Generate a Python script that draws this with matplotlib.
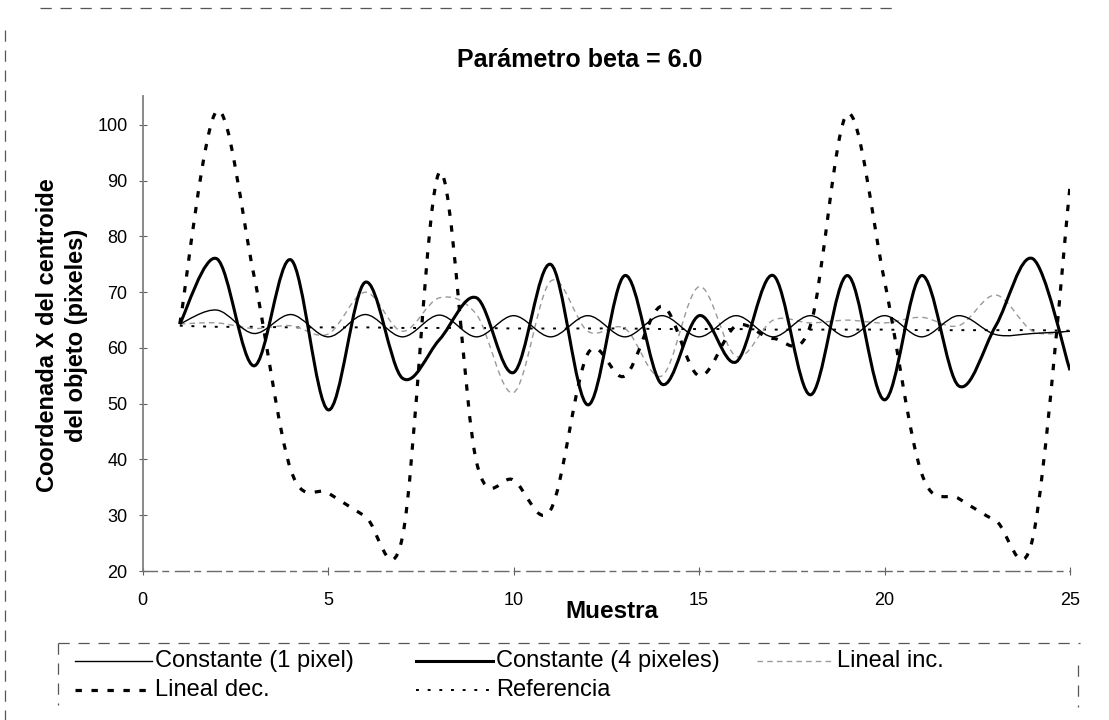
import numpy as np
import matplotlib
matplotlib.use("Agg")
import matplotlib.pyplot as plt
from matplotlib.path import Path
from matplotlib.patches import PathPatch
from matplotlib.lines import Line2D

plt.rcParams['font.family'] = ['Liberation Sans', 'DejaVu Sans']

# ---- data -------------------------------------------------------------
muestra = list(range(1, 26))

constante_1px = [64.3, 66.8, 62.6, 66.0, 62.0, 66.0, 62.0, 65.9, 62.0, 65.8,
                 62.0, 65.8, 62.0, 65.8, 62.0, 65.8, 62.0, 65.8, 62.0, 65.8,
                 62.0, 65.8, 62.4, 62.6, 63.0]

constante_4px = [64.3, 76.0, 56.8, 75.8, 48.9, 71.8, 54.6, 61.5, 69.0, 55.6,
                 75.0, 49.8, 73.0, 53.5, 65.8, 57.5, 73.0, 51.6, 73.0, 50.7,
                 73.0, 53.2, 64.0, 76.0, 56.0]

lineal_inc = [64.3, 64.5, 63.5, 64.0, 62.5, 70.0, 63.0, 69.0, 66.0, 52.0,
              72.0, 63.0, 63.5, 55.0, 71.0, 58.5, 65.0, 64.5, 65.0, 64.5,
              65.5, 64.0, 69.5, 63.0, 63.0]

lineal_dec = [64.3, 102.5, 73.0, 38.0, 34.0, 29.8, 26.0, 91.5, 39.5, 36.3,
              31.0, 59.0, 55.0, 67.5, 55.0, 64.0, 61.7, 64.0, 102.0, 72.0,
              37.5, 33.0, 29.0, 26.0, 89.0]

referencia = [64.0, 63.8, 63.8, 63.7, 63.7, 63.7, 63.6, 63.6, 63.6, 63.5,
              63.5, 63.5, 63.5, 63.4, 63.4, 63.4, 63.3, 63.3, 63.3, 63.3,
              63.2, 63.2, 63.2, 63.2, 63.1]

x_ticks = [0, 5, 10, 15, 20, 25]
y_ticks = [20, 30, 40, 50, 60, 70, 80, 90, 100]

# ---- styles -----------------------------------------------------------
estilos = {
    "Constante (1 pixel)":   dict(color="black", lw=1.0, ls="-"),
    "Constante (4 pixeles)": dict(color="black", lw=2.2, ls="-"),
    "Lineal inc.":           dict(color="#9a9a9a", lw=1.0, ls=(0, (4, 3))),
    "Lineal dec.":           dict(color="black", lw=2.3, ls=(0, (2, 3))),
    "Referencia":            dict(color="black", lw=1.4, ls=(0, (1.5, 4.5))),
}
series = {
    "Constante (1 pixel)": constante_1px,
    "Constante (4 pixeles)": constante_4px,
    "Lineal inc.": lineal_inc,
    "Lineal dec.": lineal_dec,
    "Referencia": referencia,
}


def smooth_path(x, y):
    """Smoothed polyline through the points (cubic Bezier, 1/6 tangents)."""
    x = np.asarray(x, float)
    y = np.asarray(y, float)
    n = len(x)
    verts = [(x[0], y[0])]
    codes = [Path.MOVETO]
    for i in range(n - 1):
        xa, ya = (x[i - 1], y[i - 1]) if i > 0 else (x[i], y[i])
        xb, yb = (x[i + 2], y[i + 2]) if i + 2 < n else (x[i + 1], y[i + 1])
        c1 = (x[i] + (x[i + 1] - xa) / 6.0, y[i] + (y[i + 1] - ya) / 6.0)
        c2 = (x[i + 1] - (xb - x[i]) / 6.0, y[i + 1] - (yb - y[i]) / 6.0)
        verts += [c1, c2, (x[i + 1], y[i + 1])]
        codes += [Path.CURVE4] * 3
    return Path(verts, codes)


W, H = 1109, 720
fig = plt.figure(figsize=(W / 100, H / 100), dpi=100)


def fx(px):
    return px / W


def fy(py):
    return 1 - py / H


ax = fig.add_axes([fx(142.7), fy(571), fx(1070) - fx(142.7), fy(96) - fy(571)])
ax.set_xlim(0, 25)
ax.set_ylim(20, 105.2)

for nombre in ["Referencia", "Lineal inc.", "Constante (1 pixel)",
               "Lineal dec.", "Constante (4 pixeles)"]:
    st = estilos[nombre]
    patch = PathPatch(smooth_path(muestra, series[nombre]), facecolor="none",
                      edgecolor=st["color"], lw=st["lw"], linestyle=st["ls"],
                      capstyle="butt", joinstyle="round")
    ax.add_patch(patch)

for s in ["top", "right"]:
    ax.spines[s].set_visible(False)
ax.spines["left"].set_color("#808080")
ax.spines["left"].set_linewidth(1.3)
ax.spines["bottom"].set_color("#6a6a6a")
ax.spines["bottom"].set_linewidth(1.0)
ax.spines["bottom"].set_linestyle((0, (10, 4, 4, 5)))

ax.set_xticks(x_ticks)
ax.set_yticks(y_ticks)
ax.tick_params(axis="both", direction="inout", length=6, width=0.8,
               colors="#606060", labelcolor="black", labelsize=13)
ax.tick_params(axis="x", pad=12)
ax.tick_params(axis="y", pad=8)

fig.text(fx(580), fy(60), "Parámetro beta = 6.0", ha="center", va="center",
         fontsize=18, fontweight="bold")
fig.text(fx(612), fy(612), "Muestra", ha="center", va="center",
         fontsize=17.5, fontweight="bold")
fig.text(fx(62), fy(335), "Coordenada X del centroide\ndel objeto (pixeles)",
         ha="center", va="center", rotation=90, fontsize=17,
         fontweight="bold", linespacing=1.35)

# ---- legend ------------------------------------------------------------
filas = [661, 690]
entradas = [
    ("Constante (1 pixel)", 0, 0),
    ("Constante (4 pixeles)", 1, 0),
    ("Lineal inc.", 2, 0),
    ("Lineal dec.", 0, 1),
    ("Referencia", 1, 1),
]
col_text = [155, 496, 837]
for nombre, c, r in entradas:
    st = estilos[nombre]
    y = fy(filas[r])
    x1 = fx(col_text[c] - 3)
    x0 = fx(col_text[c] - 80)
    fig.add_artist(Line2D([x0, x1], [y, y], color=st["color"], lw=st["lw"],
                          linestyle=st["ls"], transform=fig.transFigure))
    fig.text(fx(col_text[c]), y, nombre, ha="left", va="center", fontsize=17)

# legend frame and chart area border (broken light lines)
borde = dict(color="#555555", lw=0.9, linestyle=(0, (9, 7)),
             transform=fig.transFigure)
fig.add_artist(Line2D([fx(58), fx(1080)], [fy(643), fy(643)], **borde))
fig.add_artist(Line2D([fx(58), fx(58)], [fy(643), fy(705)], **borde))
fig.add_artist(Line2D([fx(1078), fx(1078)], [fy(665), fy(707)], **borde))
fig.add_artist(Line2D([fx(40), fx(900)], [fy(8), fy(8)], **borde))
fig.add_artist(Line2D([fx(5), fx(5)], [fy(30), fy(720)], **borde))

fig.savefig("out.png", dpi=100)
